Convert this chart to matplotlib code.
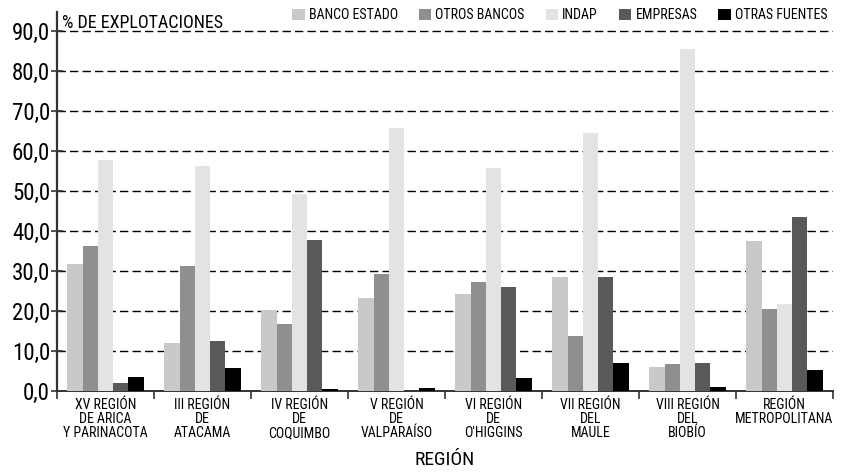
import numpy as np
import matplotlib
matplotlib.use('Agg')
import matplotlib.pyplot as plt

regiones = ['XV REGIÓN\nDE ARICA\nY PARINACOTA', 'III REGIÓN\nDE\nATACAMA',
            'IV REGIÓN\nDE\nCOQUIMBO', 'V REGIÓN\nDE\nVALPARAÍSO',
            'VI REGIÓN\nDE\nO\'HIGGINS', 'VII REGIÓN\nDEL\nMAULE',
            'VIII REGIÓN\nDEL\nBIOBÍO', 'REGIÓN\nMETROPOLITANA']

series = ['BANCO ESTADO', 'OTROS BANCOS', 'INDAP', 'EMPRESAS', 'OTRAS FUENTES']
banco_estado = [31.8, 12.1, 20.2, 23.3, 24.3, 28.5, 6.0, 37.5]
otros_bancos = [36.3, 31.3, 16.8, 29.3, 27.3, 13.8, 6.8, 20.5]
indap = [57.9, 56.3, 49.4, 65.8, 55.8, 64.5, 85.5, 21.8]
empresas = [2.0, 12.6, 37.8, 0.0, 26.0, 28.5, 7.0, 43.5]
otras_fuentes = [3.5, 5.8, 0.4, 0.8, 3.3, 7.0, 1.0, 5.3]
colores = ['#c8c9cb', '#8e8f91', '#e2e3e5', '#58595b', '#000000']

yticks = np.arange(0, 91, 10)

plt.rcParams['font.family'] = ['Roboto Condensed', 'Liberation Sans Narrow', 'DejaVu Sans']
plt.rcParams['font.stretch'] = 'condensed'

fig = plt.figure(figsize=(8.41, 4.72), dpi=100)
ax = fig.add_axes([57/841, 81/472, 776/841, 379/472])

data = [banco_estado, otros_bancos, indap, empresas, otras_fuentes]
x = np.arange(len(regiones))
w = 0.158
for i, (vals, name, col) in enumerate(zip(data, series, colores)):
    ax.bar(x + (i - 2) * w, vals, width=w, color=col, label=name, zorder=3)

ax.set_xlim(-0.5, len(regiones) - 0.5)
ax.set_ylim(0, 94.8)
ax.set_yticks(yticks)
ax.yaxis.set_major_formatter(matplotlib.ticker.FuncFormatter(lambda v, p: ('%.1f' % v).replace('.', ',')))
for v in yticks[1:]:
    ax.axhline(v, color='black', lw=1, ls=(0, (6, 3)), zorder=1)

ax.set_xticks(x)
ax.set_xticklabels(regiones, fontsize=10, linespacing=1.0)
ax.set_xticks(np.arange(-0.5, len(regiones)), minor=True)
ax.tick_params(axis='x', which='major', length=0, pad=5)
ax.tick_params(axis='x', which='minor', length=6, width=1.2, color='#333333')
ax.tick_params(axis='y', labelsize=16.5, length=8, width=1.2, direction='inout', color='#333333', pad=1)

for s in ['top', 'right']:
    ax.spines[s].set_visible(False)
ax.spines['left'].set_color('#333333')
ax.spines['bottom'].set_color('#333333')
ax.spines['left'].set_linewidth(1.6)
ax.spines['bottom'].set_linewidth(1.4)

ax.set_xlabel('REGIÓN', fontsize=14, labelpad=8)
ax.text(0.006, 0.995, '% DE EXPLOTACIONES', transform=ax.transAxes, fontsize=13,
        va='top', ha='left')

ax.legend(loc='upper right', bbox_to_anchor=(1.0, 1.025), ncol=5, frameon=False,
          fontsize=10, handlelength=0.9, handleheight=0.9, handletextpad=0.3,
          columnspacing=1.5, borderaxespad=0)

fig.savefig('out.png', dpi=100)
